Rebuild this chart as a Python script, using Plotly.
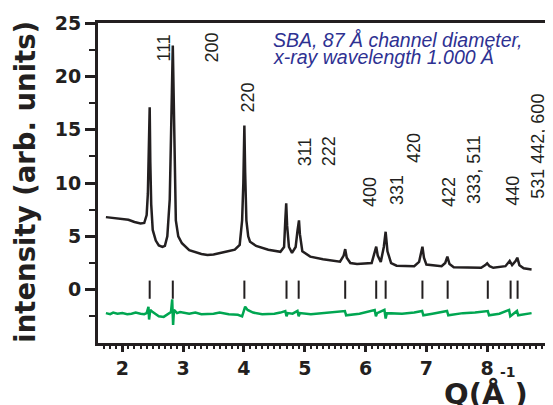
import numpy as np
import plotly.graph_objects as go

# ---------------- data ----------------
q_obs = [1.73, 1.80, 1.90, 2.00, 2.10, 2.20, 2.30, 2.36, 2.40, 2.42, 2.435, 2.45, 2.46, 2.475,
         2.50, 2.55, 2.60, 2.66, 2.70, 2.74, 2.78, 2.80, 2.815, 2.83, 2.845, 2.86, 2.88, 2.92,
         2.98, 3.10, 3.30, 3.40, 3.50, 3.70, 3.85, 3.93, 3.97, 3.99, 4.007, 4.02, 4.04, 4.07,
         4.10, 4.20, 4.40, 4.60, 4.66, 4.68, 4.695, 4.71, 4.74, 4.79, 4.85, 4.88, 4.905, 4.92,
         4.96, 5.09, 5.30, 5.58, 5.64, 5.665, 5.69, 5.75, 5.86, 6.10, 6.15, 6.175, 6.20, 6.25,
         6.30, 6.33, 6.36, 6.42, 6.51, 6.80, 6.88, 6.915, 6.935, 6.96, 7.00, 7.25, 7.31, 7.345,
         7.38, 7.45, 7.90, 7.97, 8.00, 8.04, 8.10, 8.30, 8.37, 8.41, 8.47, 8.495, 8.53, 8.60, 8.73]
i_obs = [6.8, 6.75, 6.7, 6.65, 6.55, 6.35, 6.2, 6.25, 7.0, 9.0, 13.0, 17.1, 12.0, 8.0,
         5.6, 4.6, 4.15, 4.0, 4.1, 5.0, 8.5, 13.0, 18.5, 22.9, 17.0, 10.0, 6.5, 5.0,
         4.35, 3.7, 3.35, 3.25, 3.3, 3.55, 3.75, 4.2, 6.5, 10.0, 15.4, 11.0, 6.5, 5.0,
         4.5, 4.1, 3.75, 3.55, 4.0, 6.5, 8.1, 6.0, 4.0, 3.45, 4.0, 5.5, 6.5, 5.2,
         3.6, 3.1, 2.85, 2.62, 3.2, 3.8, 3.0, 2.5, 2.4, 2.5, 3.4, 4.03, 3.2, 2.6,
         4.0, 5.43, 3.6, 2.5, 2.25, 2.2, 2.6, 3.6, 4.03, 3.0, 2.35, 2.2, 2.5, 3.1,
         2.4, 2.1, 2.05, 2.3, 2.47, 2.2, 2.05, 2.2, 2.69, 2.3, 2.7, 3.0, 2.3, 2.0, 1.9]

q_diff = [1.73, 1.80, 1.85, 1.92, 2.00, 2.08, 2.15, 2.22, 2.30, 2.36, 2.40, 2.43, 2.44, 2.46,
          2.50, 2.60, 2.68, 2.75, 2.80, 2.82, 2.835, 2.85, 2.90, 2.95, 3.00, 3.10, 3.20, 3.30,
          3.50, 3.60, 3.75, 3.90, 3.97, 4.02, 4.06, 4.15, 4.30, 4.50, 4.60, 4.68, 4.70, 4.72,
          4.80, 4.88, 4.90, 4.92, 5.10, 5.30, 5.50, 5.66, 5.68, 5.90, 6.15, 6.17, 6.19, 6.31,
          6.33, 6.35, 6.60, 6.80, 6.93, 6.95, 7.10, 7.34, 7.36, 7.60, 7.80, 8.01, 8.03, 8.20,
          8.36, 8.38, 8.49, 8.51, 8.73]
i_diff = [-2.2, -2.3, -2.15, -2.25, -2.2, -2.3, -2.25, -2.15, -2.25, -2.3, -2.2, -1.6, -2.8, -1.9,
          -2.1, -2.5, -2.55, -2.3, -2.1, -0.9, -3.3, -1.9, -2.2, -2.1, -2.15, -2.25, -2.15, -2.3,
          -2.25, -2.15, -2.3, -2.35, -2.5, -1.6, -1.9, -2.15, -2.3, -2.25, -2.15, -2.0, -2.5,
          -2.2, -2.25, -2.0, -2.5, -2.2, -2.3, -2.2, -2.15, -2.0, -2.4, -2.25, -1.9, -2.5, -2.2,
          -1.9, -2.7, -2.2, -2.25, -2.15, -2.0, -2.4, -2.25, -2.0, -2.4, -2.2, -2.15, -2.0,
          -2.4, -2.25, -1.9, -2.5, -2.0, -2.4, -2.2]

bragg_q = [2.45, 2.83, 4.007, 4.70, 4.90, 5.665, 6.175, 6.33, 6.935, 7.35, 8.01, 8.385, 8.50]
bragg_y = [0] * len(bragg_q)

hkl_labels = ["111", "200", "220", "311", "222", "400", "331", "420", "422",
              "333, 511", "440", "531 442, 600"]
hkl_label_q = [2.678, 3.482, 4.073, 5.008, 5.403, 6.074, 6.517, 6.797, 7.371, 7.781, 8.421, 8.831]
hkl_label_y = [22.66, 22.75, 18.06, 12.91, 13.0, 9.16, 9.34, 13.28, 9.16, 11.31, 9.25, 13.47]

x_tick_vals = [2, 3, 4, 5, 6, 7, 8, 9]
x_tick_labels = ["2", "3", "4", "5", "6", "7", "8", "9"]
y_tick_vals = [0, 5, 10, 15, 20, 25]
y_tick_labels = ["0", "5", "10", "15", "20", "25"]

# ---------------- figure ----------------
INK = "#231f20"
GREEN = "#00a651"
BLUE = "#2e3192"
FONT = "Liberation Sans"
BOLDFONT = "DejaVu Sans"

fig = go.Figure()
fig.add_trace(go.Scatter(x=q_obs, y=i_obs, mode="lines",
                         line=dict(color=INK, width=2.5), showlegend=False))
fig.add_trace(go.Scatter(x=q_diff, y=i_diff, mode="lines",
                         line=dict(color=GREEN, width=2.5), showlegend=False))
fig.add_trace(go.Scatter(x=bragg_q, y=bragg_y, mode="markers",
                         marker=dict(symbol="line-ns", size=13,
                                     line=dict(color=INK, width=2)),
                         showlegend=False))

for lab, xq, yv in zip(hkl_labels, hkl_label_q, hkl_label_y):
    fig.add_annotation(x=xq, y=yv, text=lab, textangle=-90, showarrow=False,
                       xanchor="center", yanchor="middle",
                       font=dict(family=FONT, size=18, color=INK))

fig.add_annotation(x=4.44, y=23.41, text="SBA, 87 Å channel diameter,", showarrow=False,
                   xanchor="left", yanchor="middle",
                   font=dict(family=FONT, size=19.5, color=BLUE, style="italic"))
fig.add_annotation(x=4.44, y=21.81, text="x-ray wavelength 1.000 Å", showarrow=False,
                   xanchor="left", yanchor="middle",
                   font=dict(family=FONT, size=19.5, color=BLUE, style="italic"))

# axis titles
fig.add_annotation(xref="paper", yref="paper", x=-0.163, y=0.503,
                   text="intensity (arb. units)", textangle=-90, showarrow=False,
                   xanchor="center", yanchor="middle",
                   font=dict(family=BOLDFONT, size=27.5, color=INK, weight="bold"))
fig.add_annotation(xref="paper", yref="paper", x=0.863, y=-0.10,
                   text="Q(Å )", showarrow=False, xanchor="center", yanchor="top",
                   font=dict(family=BOLDFONT, size=29, color=INK, weight="bold"))
fig.add_annotation(xref="paper", yref="paper", x=0.912, y=-0.059,
                   text="-1", showarrow=False, xanchor="center", yanchor="top",
                   font=dict(family=BOLDFONT, size=14, color=INK, weight="bold"))

axis_common = dict(showline=True, linewidth=3, linecolor=INK, mirror=True,
                   ticks="outside", tickwidth=3, tickcolor=INK,
                   showgrid=False, zeroline=False, automargin=False,
                   tickfont=dict(family=BOLDFONT, size=19, color=INK, weight="bold"))

fig.update_xaxes(range=[1.6, 9], tickmode="array", tickvals=x_tick_vals,
                 ticktext=x_tick_labels, ticklen=6,
                 minor=dict(tickmode="array", tickvals=list(np.round(np.arange(1.7, 9.0, 0.1), 2)),
                            ticks="outside", ticklen=3, tickwidth=2, tickcolor=INK),
                 **axis_common)
fig.update_yaxes(range=[-5, 25], tickmode="array", tickvals=y_tick_vals,
                 ticktext=y_tick_labels, ticklen=10,
                 minor=dict(tickmode="array", tickvals=[-2.5, 2.5, 7.5, 12.5, 17.5, 22.5],
                            ticks="outside", ticklen=6, tickwidth=2, tickcolor=INK),
                 **axis_common)

# page body adds an 8 px margin, so the figure is 8 px smaller than the window
fig.update_layout(width=545, height=397,
                  margin=dict(l=90, r=5, t=15, b=62, autoexpand=False),
                  plot_bgcolor="white", paper_bgcolor="white",
                  font=dict(family=FONT, color=INK))

fig.write_html("out.html")
